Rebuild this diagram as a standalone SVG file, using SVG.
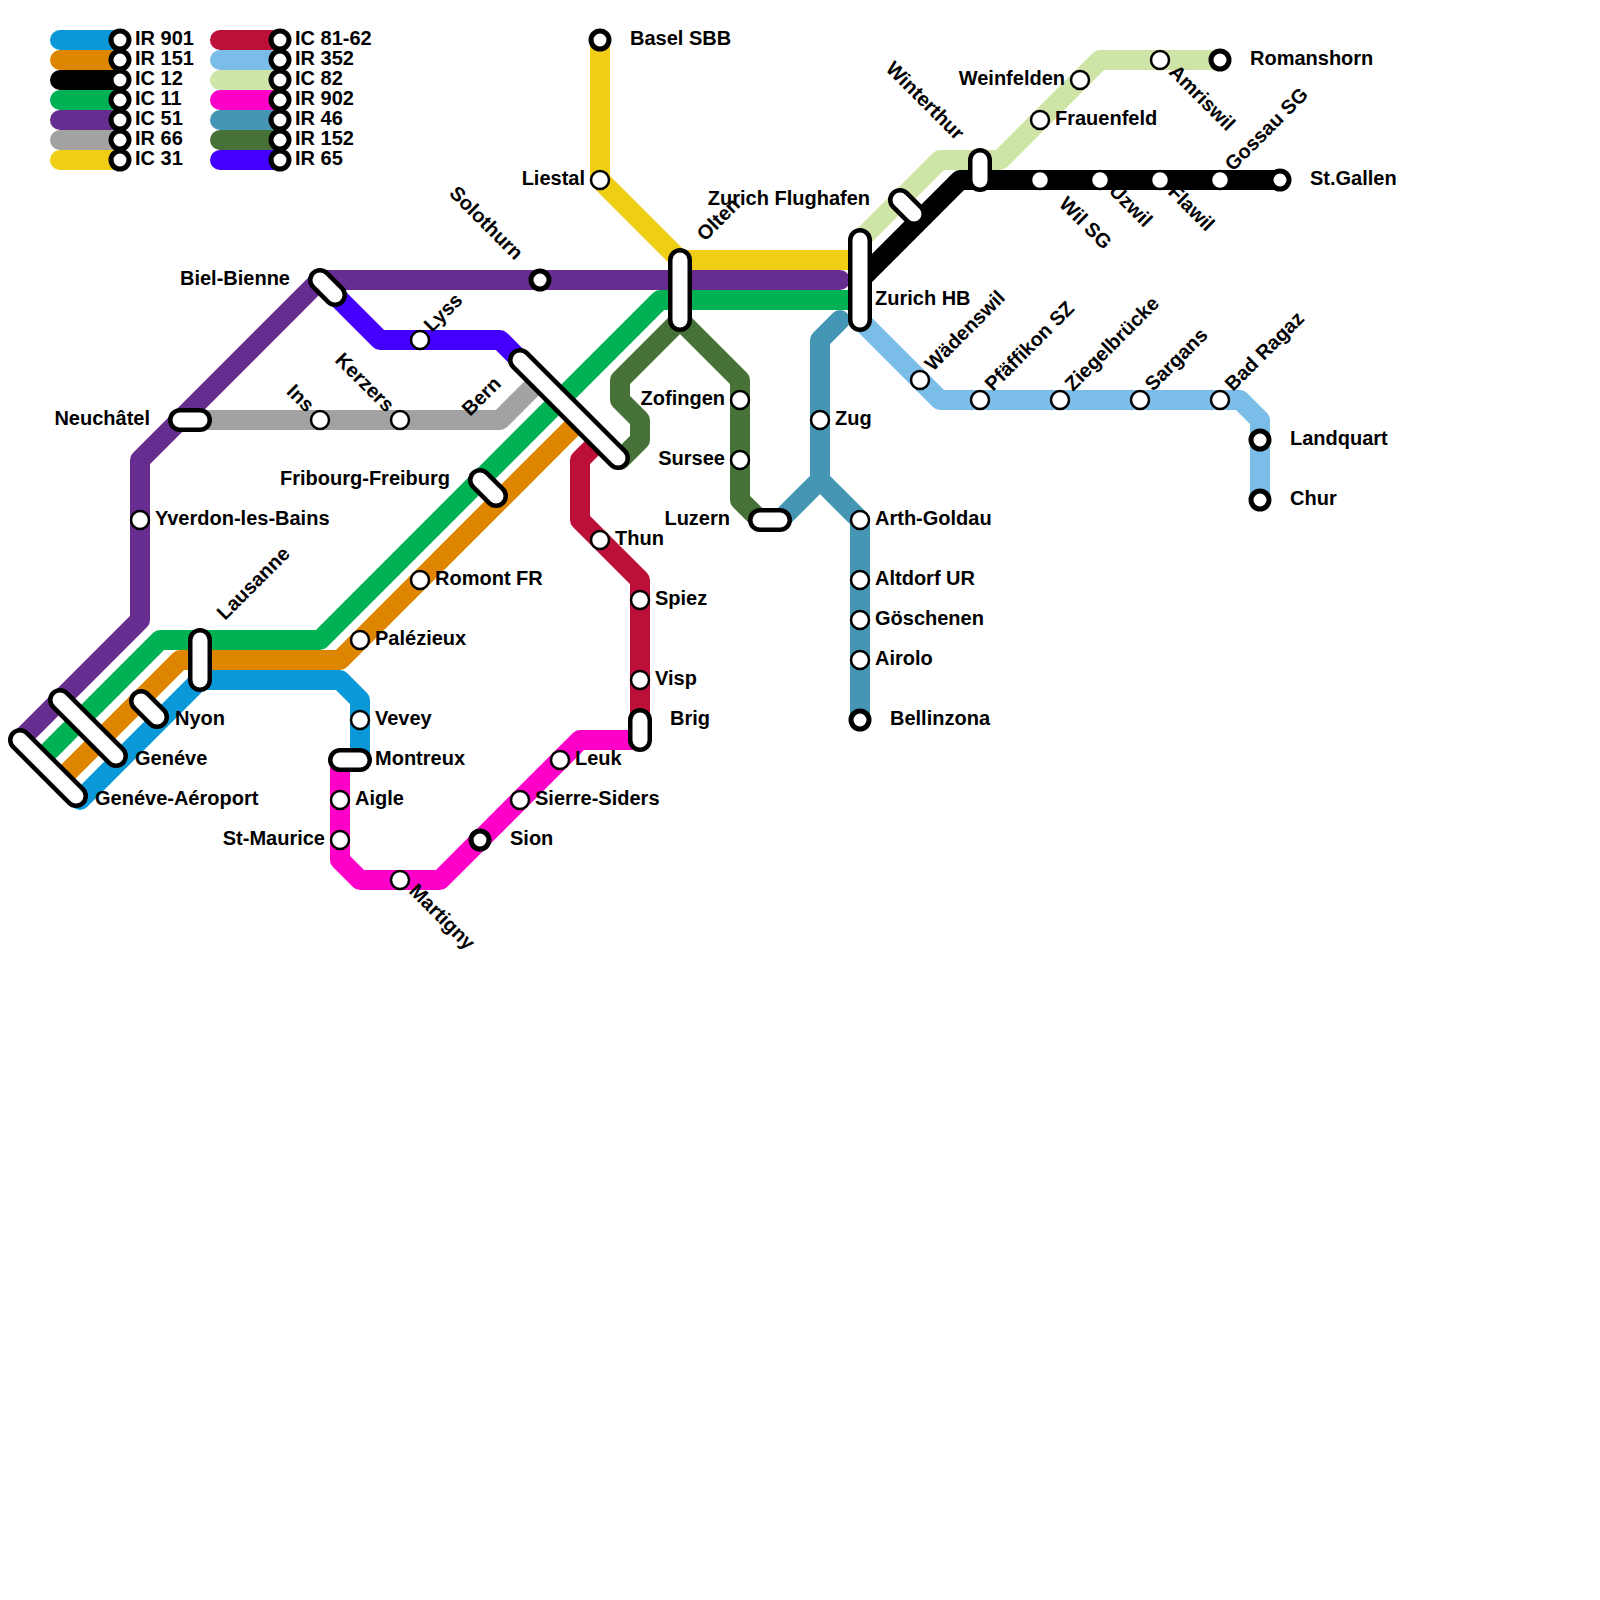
<svg xmlns="http://www.w3.org/2000/svg" width="1600" height="1600" viewBox="0 0 1600 1600">
<style>
text{font-family:"Liberation Sans",Arial,sans-serif;font-weight:bold;font-size:20px;fill:#000}
.e{text-anchor:end}
.l{fill:none;stroke-width:20;stroke-linecap:round;stroke-linejoin:round}
.po{fill:none;stroke:#000;stroke-width:24;stroke-linecap:round}
.pi{fill:none;stroke:#fff;stroke-width:15;stroke-linecap:round}
.s{fill:#fff;stroke:#000;stroke-width:2.5}
.t{fill:#fff;stroke:#000;stroke-width:5}
.c1{stroke:#0b98d8}.c2{stroke:#de8600}.c3{stroke:#000}.c4{stroke:#00b254}.c5{stroke:#662c90}.c6{stroke:#a2a2a2}.c7{stroke:#f0ce15}
.c8{stroke:#bd1038}.c9{stroke:#7bbde9}.c10{stroke:#cfe4a7}.c11{stroke:#ff00c8}.c12{stroke:#4496b4}.c13{stroke:#467238}.c14{stroke:#4400ff}
</style>
<defs>
<circle id="st" r="9" class="s"/>
<circle id="te" r="9" class="t"/>
</defs>
<g id="legend">
<path class="l c1" d="M60 40H120"/><path class="l c2" d="M60 60H120"/><path class="l c3" d="M60 80H120"/><path class="l c4" d="M60 100H120"/><path class="l c5" d="M60 120H120"/><path class="l c6" d="M60 140H120"/><path class="l c7" d="M60 160H120"/>
<path class="l c8" d="M220 40H280"/><path class="l c9" d="M220 60H280"/><path class="l c10" d="M220 80H280"/><path class="l c11" d="M220 100H280"/><path class="l c12" d="M220 120H280"/><path class="l c13" d="M220 140H280"/><path class="l c14" d="M220 160H280"/>
<use href="#te" x="120" y="40"/><use href="#te" x="120" y="60"/><use href="#te" x="120" y="80"/><use href="#te" x="120" y="100"/><use href="#te" x="120" y="120"/><use href="#te" x="120" y="140"/><use href="#te" x="120" y="160"/>
<use href="#te" x="280" y="40"/><use href="#te" x="280" y="60"/><use href="#te" x="280" y="80"/><use href="#te" x="280" y="100"/><use href="#te" x="280" y="120"/><use href="#te" x="280" y="140"/><use href="#te" x="280" y="160"/>
<text x="135" y="45">IR 901</text><text x="135" y="65">IR 151</text><text x="135" y="85">IC 12</text><text x="135" y="105">IC 11</text><text x="135" y="125">IC 51</text><text x="135" y="145">IR 66</text><text x="135" y="165">IC 31</text>
<text x="295" y="45">IC 81-62</text><text x="295" y="65">IR 352</text><text x="295" y="85">IC 82</text><text x="295" y="105">IR 902</text><text x="295" y="125">IR 46</text><text x="295" y="145">IR 152</text><text x="295" y="165">IR 65</text>
</g>
<g id="connectors">
<path class="l c1" d="M80 800L200 680H340L360 700V760"/>
<path class="l c2" d="M60 780L180 660H340L580 420"/>
<path class="l c3" d="M860 280L960 180H1280"/>
<path class="l c4" d="M40 760L160 640H320L660 300H860"/>
<path class="l c5" d="M20 740L140 620V460L320 280H840"/>
<path class="l c6" d="M180 420H500L540 380"/>
<path class="l c7" d="M600 40V180L680 260H860"/>
<path class="l c8" d="M600 440L580 460V520L640 580V720"/>
<path class="l c9" d="M860 320L940 400H1240L1260 420V500"/>
<path class="l c10" d="M860 240L940 160H1000L1100 60H1220"/>
<path class="l c11" d="M640 740H580L440 880H360L340 860V760"/>
<path class="l c12" d="M840 320L820 340V480L780 520M820 480L860 520V720"/>
<path class="l c13" d="M620 460L640 440V420L620 400V380L680 320L740 380V500L760 520"/>
<path class="l c14" d="M320 280L380 340H500L520 360"/>
</g>
<g id="n-geneve-aeroport"><path class="po" d="M20 740L76 796"/><path class="pi" d="M20 740L76 796"/><text x="95" y="805">Genéve-Aéroport</text></g>
<g id="n-geneve"><path class="po" d="M60 700L116 756"/><path class="pi" d="M60 700L116 756"/><text x="135" y="765">Genéve</text></g>
<g id="n-nyon"><path class="po" d="M141 701L157 717"/><path class="pi" d="M141 701L157 717"/><text x="175" y="725">Nyon</text></g>
<g id="n-lausanne"><path class="po" d="M200 640V680"/><path class="pi" d="M200 640V680"/><text transform="translate(225 621) rotate(-45)">Lausanne</text></g>
<g id="n-neuchatel"><path class="po" d="M180 420H200"/><path class="pi" d="M180 420H200"/><text class="e" x="150" y="425">Neuchâtel</text></g>
<g id="n-yverdon"><use href="#st" x="140" y="520"/><text x="155" y="525">Yverdon-les-Bains</text></g>
<g id="n-biel"><path class="po" d="M320 280L335 295"/><path class="pi" d="M320 280L335 295"/><text class="e" x="290" y="285">Biel-Bienne</text></g>
<g id="n-ins"><use href="#st" x="320" y="420"/><text class="e" transform="translate(306 413) rotate(45)">Ins</text></g>
<g id="n-kerzers"><use href="#st" x="400" y="420"/><text class="e" transform="translate(386 413) rotate(45)">Kerzers</text></g>
<g id="n-lyss"><use href="#st" x="420" y="340"/><text transform="translate(432 333) rotate(-45)">Lyss</text></g>
<g id="n-solothurn"><use href="#te" x="540" y="280"/><text class="e" transform="translate(515 261) rotate(45)">Solothurn</text></g>
<g id="n-bern"><path class="po" d="M520 360L618 458"/><path class="pi" d="M520 360L618 458"/><text transform="translate(470 417) rotate(-45)">Bern</text></g>
<g id="n-fribourg"><path class="po" d="M480 480L496 496"/><path class="pi" d="M480 480L496 496"/><text class="e" x="450" y="485">Fribourg-Freiburg</text></g>
<g id="n-romont"><use href="#st" x="420" y="580"/><text x="435" y="585">Romont FR</text></g>
<g id="n-palezieux"><use href="#st" x="360" y="640"/><text x="375" y="645">Palézieux</text></g>
<g id="n-vevey"><use href="#st" x="360" y="720"/><text x="375" y="725">Vevey</text></g>
<g id="n-montreux"><path class="po" d="M340 760H360"/><path class="pi" d="M340 760H360"/><text x="375" y="765">Montreux</text></g>
<g id="n-aigle"><use href="#st" x="340" y="800"/><text x="355" y="805">Aigle</text></g>
<g id="n-st-maurice"><use href="#st" x="340" y="840"/><text class="e" x="325" y="845">St-Maurice</text></g>
<g id="n-martigny"><use href="#st" x="400" y="880"/><text transform="translate(408 892) rotate(45)">Martigny</text></g>
<g id="n-sion"><use href="#te" x="480" y="840"/><text x="510" y="845">Sion</text></g>
<g id="n-sierre"><use href="#st" x="520" y="800"/><text x="535" y="805">Sierre-Siders</text></g>
<g id="n-leuk"><use href="#st" x="560" y="760"/><text x="575" y="765">Leuk</text></g>
<g id="n-brig"><path class="po" d="M640 720V740"/><path class="pi" d="M640 720V740"/><text x="670" y="725">Brig</text></g>
<g id="n-visp"><use href="#st" x="640" y="680"/><text x="655" y="685">Visp</text></g>
<g id="n-spiez"><use href="#st" x="640" y="600"/><text x="655" y="605">Spiez</text></g>
<g id="n-thun"><use href="#st" x="600" y="540"/><text x="615" y="545">Thun</text></g>
<g id="n-basel"><use href="#te" x="600" y="40"/><text x="630" y="45">Basel SBB</text></g>
<g id="n-liestal"><use href="#st" x="600" y="180"/><text class="e" x="585" y="185">Liestal</text></g>
<g id="n-olten"><path class="po" d="M680 260V320"/><path class="pi" d="M680 260V320"/><text transform="translate(705 242) rotate(-45)">Olten</text></g>
<g id="n-zofingen"><use href="#st" x="740" y="400"/><text class="e" x="725" y="405">Zofingen</text></g>
<g id="n-sursee"><use href="#st" x="740" y="460"/><text class="e" x="725" y="465">Sursee</text></g>
<g id="n-luzern"><path class="po" d="M760 520H780"/><path class="pi" d="M760 520H780"/><text class="e" x="730" y="525">Luzern</text></g>
<g id="n-zug"><use href="#st" x="820" y="420"/><text x="835" y="425">Zug</text></g>
<g id="n-arth"><use href="#st" x="860" y="520"/><text x="875" y="525">Arth-Goldau</text></g>
<g id="n-altdorf"><use href="#st" x="860" y="580"/><text x="875" y="585">Altdorf UR</text></g>
<g id="n-goschenen"><use href="#st" x="860" y="620"/><text x="875" y="625">Göschenen</text></g>
<g id="n-airolo"><use href="#st" x="860" y="660"/><text x="875" y="665">Airolo</text></g>
<g id="n-bellinzona"><use href="#te" x="860" y="720"/><text x="890" y="725">Bellinzona</text></g>
<g id="n-zurich-hb"><path class="po" d="M860 240V320"/><path class="pi" d="M860 240V320"/><text x="875" y="305">Zurich HB</text></g>
<g id="n-flughafen"><path class="po" d="M900 200L914 214"/><path class="pi" d="M900 200L914 214"/><text class="e" x="870" y="205">Zurich Flughafen</text></g>
<g id="n-winterthur"><path class="po" d="M980 160V180"/><path class="pi" d="M980 160V180"/><text class="e" transform="translate(956 141) rotate(45)">Winterthur</text></g>
<g id="n-wadenswil"><use href="#st" x="920" y="380"/><text transform="translate(933 372) rotate(-45)">Wädenswil</text></g>
<g id="n-pfaffikon"><use href="#st" x="980" y="400"/><text transform="translate(993 392) rotate(-45)">Pfäffikon SZ</text></g>
<g id="n-ziegelbrucke"><use href="#st" x="1060" y="400"/><text transform="translate(1073 392) rotate(-45)">Ziegelbrücke</text></g>
<g id="n-sargans"><use href="#st" x="1140" y="400"/><text transform="translate(1153 392) rotate(-45)">Sargans</text></g>
<g id="n-bad-ragaz"><use href="#st" x="1220" y="400"/><text transform="translate(1233 392) rotate(-45)">Bad Ragaz</text></g>
<g id="n-landquart"><use href="#te" x="1260" y="440"/><text x="1290" y="445">Landquart</text></g>
<g id="n-chur"><use href="#te" x="1260" y="500"/><text x="1290" y="505">Chur</text></g>
<g id="n-wil"><use href="#st" x="1040" y="180"/><text transform="translate(1058 205) rotate(45)">Wil SG</text></g>
<g id="n-uzwil"><use href="#st" x="1100" y="180"/><text transform="translate(1108 192) rotate(45)">Uzwil</text></g>
<g id="n-flawil"><use href="#st" x="1160" y="180"/><text transform="translate(1167 193) rotate(45)">Flawil</text></g>
<g id="n-gossau"><use href="#st" x="1220" y="180"/><text transform="translate(1233 172) rotate(-45)">Gossau SG</text></g>
<g id="n-st-gallen"><use href="#te" x="1280" y="180"/><text x="1310" y="185">St.Gallen</text></g>
<g id="n-frauenfeld"><use href="#st" x="1040" y="120"/><text x="1055" y="125">Frauenfeld</text></g>
<g id="n-weinfelden"><use href="#st" x="1080" y="80"/><text class="e" x="1065" y="85">Weinfelden</text></g>
<g id="n-amriswil"><use href="#st" x="1160" y="60"/><text transform="translate(1168 73) rotate(45)">Amriswil</text></g>
<g id="n-romanshorn"><use href="#te" x="1220" y="60"/><text x="1250" y="65">Romanshorn</text></g>
</svg>
